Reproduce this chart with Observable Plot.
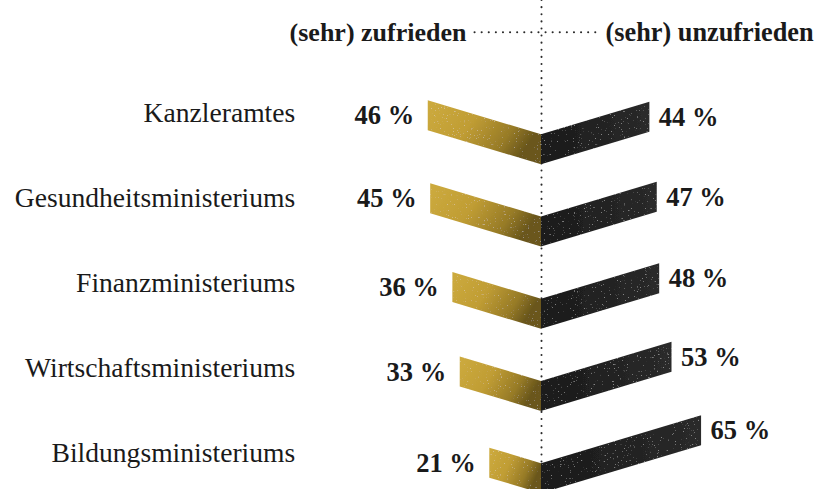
<!DOCTYPE html>
<html>
<head>
<meta charset="utf-8">
<script src="https://cdn.jsdelivr.net/npm/d3@7"></script>
<script src="https://cdn.jsdelivr.net/npm/@observablehq/plot@0.6"></script>
<style>
  html, body { margin: 0; padding: 0; background: #ffffff; }
  #chart svg { display: block; }
</style>
</head>
<body>
<div id="chart"></div>
<script>
// ---- data ----
const categories = ["Kanzleramtes", "Gesundheitsministeriums", "Finanzministeriums", "Wirtschaftsministeriums", "Bildungsministeriums"];
const zufrieden = [46, 45, 36, 33, 21];
const unzufrieden = [44, 47, 48, 53, 65];
const headers = ["(sehr) zufrieden", "(sehr) unzufrieden"];

// ---- layout ----
const W = 820, H = 489;
const PX_PER_PCT = 2.4625, CENTER_PX = 541;
const ROW0 = 134.2, STEP = 82.24;     // pixel position of row 0 / row spacing
const SLOPE_PX = 0.3, THICK_PX = 30;
const slope = SLOPE_PX * PX_PER_PCT / STEP;   // rows per percent
const thick = THICK_PX / STEP;                // rows
const labelY = i => (113 + 85 * i - ROW0) / STEP;
const headerY = (31.7 - ROW0) / STEP;

const rows = categories.map((c, i) => ({c, i, z: zufrieden[i], u: unzufrieden[i]}));

const goldPts = rows.flatMap(r => [
  {key: r.c, x: 0, y1: r.i, y2: r.i + thick},
  {key: r.c, x: -r.z, y1: r.i - slope * r.z, y2: r.i - slope * r.z + thick}
]);
const blackPts = rows.flatMap(r => [
  {key: r.c, x: 0, y1: r.i, y2: r.i + thick},
  {key: r.c, x: r.u, y1: r.i - slope * r.u, y2: r.i - slope * r.u + thick}
]);

const serif = "Liberation Serif, Times New Roman, serif";
const ink = "#1a1a1a";
const dots = {stroke: "#2a2a2a", strokeWidth: 2, strokeDasharray: "0.1,7", strokeLinecap: "round"};

const chart = Plot.plot({
  width: W, height: H,
  marginTop: 0, marginBottom: 0, marginLeft: 0, marginRight: 0,
  x: {type: "linear", domain: [-CENTER_PX / PX_PER_PCT, (W - CENTER_PX) / PX_PER_PCT], range: [0, W], axis: null},
  y: {type: "linear", domain: [0, 4], range: [ROW0, ROW0 + 4 * STEP], axis: null},
  style: {fontFamily: serif, background: "#ffffff", overflow: "visible"},
  marks: [
    Plot.ruleX([0], {...dots}),
    Plot.ruleY([headerY], {x1: -27, x2: 24, ...dots}),
    Plot.areaY(goldPts, {x: "x", y1: "y1", y2: "y2", z: "key", fill: "url(#goldGrad)", curve: "linear"}),
    Plot.areaY(blackPts, {x: "x", y1: "y1", y2: "y2", z: "key", fill: "url(#blackGrad)", curve: "linear"}),
    Plot.text(rows, {x: () => -100, y: r => labelY(r.i), text: "c", textAnchor: "end", fontSize: 27.6, fill: ink}),
    Plot.text(rows, {x: r => -r.z, y: r => r.i - slope * r.z + thick / 2, text: r => `${r.z} %`, textAnchor: "end", dx: -14, fontSize: 26.5, fontWeight: "bold", fill: ink}),
    Plot.text(rows, {x: r => r.u, y: r => r.i - slope * r.u + thick / 2, text: r => `${r.u} %`, textAnchor: "start", dx: 9, fontSize: 26.5, fontWeight: "bold", fill: ink}),
    Plot.text([headers[0]], {x: () => 0, y: () => headerY, text: d => d, textAnchor: "end", dx: -75, fontSize: 26, fontWeight: "bold", fill: ink}),
    Plot.text([headers[1]], {x: () => 0, y: () => headerY, text: d => d, textAnchor: "start", dx: 64, fontSize: 26.3, fontWeight: "bold", fill: ink})
  ]
});

// gradients and speckle texture
const ns = "http://www.w3.org/2000/svg";
const defs = document.createElementNS(ns, "defs");
defs.innerHTML = `
  <linearGradient id="goldGrad" x1="0" y1="0" x2="1" y2="0.4">
    <stop offset="0" stop-color="#cdab3e"/>
    <stop offset="0.45" stop-color="#c09d34"/>
    <stop offset="0.8" stop-color="#977b27"/>
    <stop offset="1" stop-color="#6a571c"/>
  </linearGradient>
  <linearGradient id="blackGrad" x1="0" y1="0" x2="1" y2="0">
    <stop offset="0" stop-color="#1a1a1a"/>
    <stop offset="1" stop-color="#2a2a2a"/>
  </linearGradient>
  <filter id="speckle" x="0" y="0" width="1" height="1">
    <feTurbulence type="fractalNoise" baseFrequency="0.7" numOctaves="2" seed="11" result="n"/>
    <feColorMatrix in="n" type="matrix" values="0 0 0 0 1  0 0 0 0 1  0 0 0 0 1  10 0 0 0 -7.0" result="dots"/>
    <feComposite in="dots" in2="SourceGraphic" operator="in" result="d2"/>
    <feComponentTransfer in="d2" result="d3"><feFuncA type="linear" slope="0.22"/></feComponentTransfer>
    <feMerge><feMergeNode in="SourceGraphic"/><feMergeNode in="d3"/></feMerge>
  </filter>`;
chart.insertBefore(defs, chart.firstChild);
chart.querySelectorAll("path").forEach(p => {
  const f = p.getAttribute("fill") || (p.parentNode && p.parentNode.getAttribute && p.parentNode.getAttribute("fill"));
  if (f && f.startsWith("url(")) p.setAttribute("filter", "url(#speckle)");
});
document.getElementById("chart").appendChild(chart);
</script>
</body>
</html>
